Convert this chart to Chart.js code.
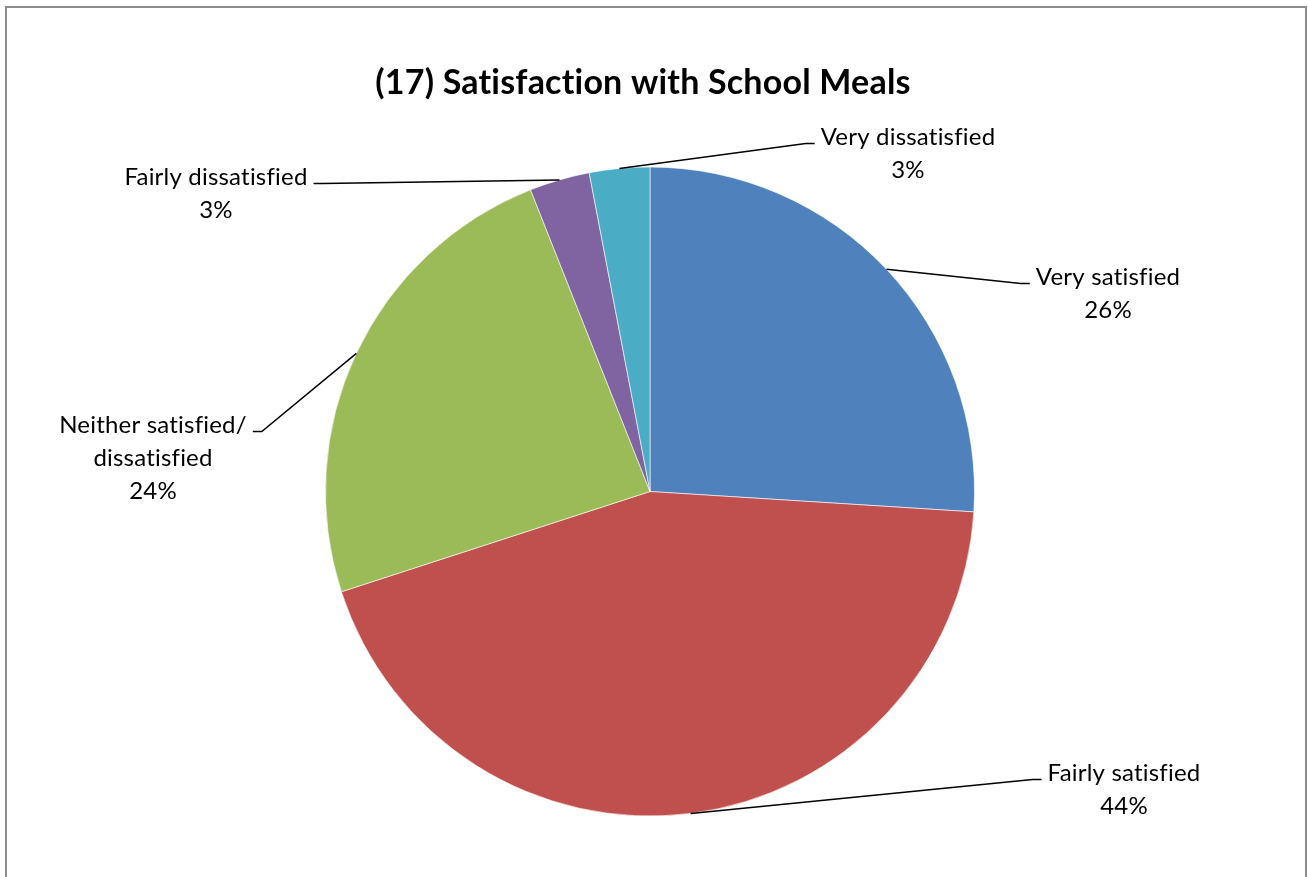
<!DOCTYPE html>
<html lang="en">
<head>
<meta charset="UTF-8">
<script src="https://cdn.jsdelivr.net/npm/chart.js"></script>
<style>
  html, body { margin: 0; padding: 0; background: #fff; overflow: hidden; }
  .frame { position: absolute; left: 5px; top: 6px; width: 1298px; height: 900px; border: 2px solid #8c8c8c; border-bottom: none; }
  #mealsChart { position: absolute; left: 0; top: 0; }
</style>
</head>
<body>
<div class="frame"></div>
<canvas id="mealsChart" width="1308" height="877"></canvas>
<script>
const chartTitle = '(17) Satisfaction with School Meals';
const categories = ['Very satisfied', 'Fairly satisfied', ['Neither satisfied/', 'dissatisfied'], 'Fairly dissatisfied', 'Very dissatisfied'];
const percentages = [26, 44, 24, 3, 3];
const sliceColours = ['#4F81BD', '#C0504D', '#9BBB59', '#8064A2', '#4BACC6'];

// where the first line of each label sits, measured from the pie centre
const labelOffsets = [[458, -214], [474, 282], [-497, -66], [-434, -314], [258, -354]];

// labels with leader lines + the title
const pieLabels = {
  id: 'pieLabels',
  afterDatasetsDraw(chart) {
    const ctx = chart.ctx;
    const arcs = chart.getDatasetMeta(0).data;
    const total = percentages.reduce((a, b) => a + b, 0);
    ctx.save();
    ctx.font = '24px Lato';
    ctx.letterSpacing = '0.2px'; // keeps "fi" as two letters
    ctx.fillStyle = '#000';
    ctx.strokeStyle = '#000';
    ctx.lineWidth = 1.5;
    ctx.textAlign = 'center';
    ctx.textBaseline = 'middle';
    arcs.forEach((arc, i) => {
      const { x, y, startAngle, endAngle, outerRadius } = arc.getProps(['x', 'y', 'startAngle', 'endAngle', 'outerRadius'], true);
      const mid = (startAngle + endAngle) / 2;
      const ex = x + Math.cos(mid) * outerRadius;
      const ey = y + Math.sin(mid) * outerRadius;
      const lines = [].concat(categories[i], Math.round(percentages[i] / total * 100) + '%');
      const tx = x + labelOffsets[i][0];
      const ty = y + labelOffsets[i][1];
      const half = ctx.measureText(lines[0]).width / 2;
      const dir = tx > x ? -1 : 1;
      const endX = tx + dir * (half + 6);
      const elbowX = endX + dir * 9;
      const ly = ty + 6;
      ctx.beginPath();
      ctx.moveTo(ex, ey);
      ctx.lineTo(elbowX, ly);
      ctx.lineTo(endX, ly);
      ctx.stroke();
      lines.forEach((t, k) => ctx.fillText(t, tx, ty + k * 33));
    });
    ctx.font = 'bold 34px Lato';
    ctx.fillText(chartTitle, 643, 83);
    ctx.restore();
  }
};

new Chart(document.getElementById('mealsChart'), {
  type: 'pie',
  data: {
    labels: categories,
    datasets: [{
      data: percentages,
      backgroundColor: sliceColours,
      borderColor: 'rgba(255,255,255,0.6)',
      borderWidth: 1
    }]
  },
  options: {
    responsive: false,
    animation: false,
    layout: { padding: { top: 166, bottom: 60, left: 325, right: 333 } },
    plugins: {
      legend: { display: false },
      tooltip: { enabled: false }
    }
  },
  plugins: [pieLabels]
});
</script>
</body>
</html>
